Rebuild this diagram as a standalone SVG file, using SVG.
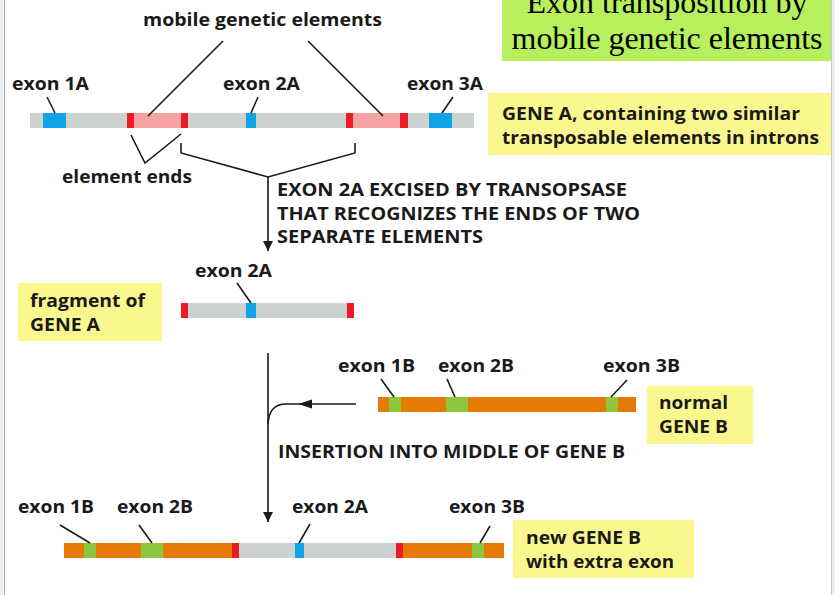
<svg xmlns="http://www.w3.org/2000/svg" width="835" height="595" viewBox="0 0 835 595">
<defs>
<style>
.t{font-family:"Open Sans","Liberation Sans",sans-serif;font-weight:700;font-size:18px;fill:#1a1a1a}
.ttl{font-family:"Liberation Serif","Times New Roman",serif;font-size:32px;fill:#000}
.ln{stroke:#1a1a1a;stroke-width:1.6;fill:none}
.g{fill:#cbd2cf}.b{fill:#12a2e8}.r{fill:#ec1c24}.p{fill:#f7a3a4}.o{fill:#e67a05}.gr{fill:#8dc63f}
.yb{fill:#fbf78f}.tb{fill:#b7f05c}
</style>
<marker id="ah" viewBox="0 0 10 16" refX="10" refY="8" markerWidth="10" markerHeight="16" markerUnits="userSpaceOnUse" orient="auto">
<path d="M0,3 L10,8 L0,13 Z" fill="#1a1a1a"/>
</marker>
</defs>
<rect x="0" y="0" width="835" height="595" fill="#ffffff"/>
<rect x="0" y="0" width="4" height="595" fill="#eeefef"/>
<rect x="832" y="0" width="3" height="595" fill="#eeefef"/>
<line x1="4.5" y1="0" x2="4.5" y2="595" stroke="#a9afbd" stroke-width="1"/>
<line x1="831.5" y1="0" x2="831.5" y2="595" stroke="#c4c8cf" stroke-width="1"/>

<g id="title">
<rect class="tb" x="502" y="0" width="329" height="61"/>
<text class="ttl" x="667" y="13" text-anchor="middle" textLength="281" lengthAdjust="spacingAndGlyphs">Exon transposition by</text>
<text class="ttl" x="667" y="49" text-anchor="middle" textLength="311" lengthAdjust="spacingAndGlyphs">mobile genetic elements</text>
</g>

<g id="geneA">
<rect class="g" x="30" y="113" width="444" height="15"/>
<rect class="b" x="43" y="113" width="23" height="15"/>
<rect class="p" x="134" y="113" width="47" height="15"/>
<rect class="r" x="127" y="113" width="7" height="15"/>
<rect class="r" x="181" y="113" width="7" height="15"/>
<rect class="b" x="246" y="113" width="10" height="15"/>
<rect class="p" x="353" y="113" width="47" height="15"/>
<rect class="r" x="346" y="113" width="7" height="15"/>
<rect class="r" x="400" y="113" width="8" height="15"/>
<rect class="b" x="429" y="113" width="23" height="15"/>
</g>

<g id="labelsA">
<text class="t" x="143" y="26" textLength="239" lengthAdjust="spacingAndGlyphs">mobile genetic elements</text>
<text class="t" x="12" y="90" textLength="77" lengthAdjust="spacingAndGlyphs">exon 1A</text>
<text class="t" x="223" y="90" textLength="77" lengthAdjust="spacingAndGlyphs">exon 2A</text>
<text class="t" x="407" y="90" textLength="76" lengthAdjust="spacingAndGlyphs">exon 3A</text>
<text class="t" x="62" y="183" textLength="130" lengthAdjust="spacingAndGlyphs">element ends</text>
</g>

<g id="boxA">
<rect class="yb" x="488" y="93" width="343" height="62"/>
<text class="t" x="502" y="120" textLength="298" lengthAdjust="spacingAndGlyphs">GENE A, containing two similar</text>
<text class="t" x="502" y="144" textLength="317" lengthAdjust="spacingAndGlyphs">transposable elements in introns</text>
</g>

<g id="excise-text">
<text class="t" x="277" y="196" textLength="350" lengthAdjust="spacingAndGlyphs">EXON 2A EXCISED BY TRANSOPSASE</text>
<text class="t" x="277" y="220" textLength="363" lengthAdjust="spacingAndGlyphs">THAT RECOGNIZES THE ENDS OF TWO</text>
<text class="t" x="277" y="243" textLength="206" lengthAdjust="spacingAndGlyphs">SEPARATE ELEMENTS</text>
</g>

<g id="fragment">
<rect class="yb" x="18" y="283" width="144" height="58"/>
<text class="t" x="30" y="307" textLength="115" lengthAdjust="spacingAndGlyphs">fragment of</text>
<text class="t" x="30" y="331" textLength="70" lengthAdjust="spacingAndGlyphs">GENE A</text>
<rect class="g" x="181" y="303" width="173" height="15"/>
<rect class="r" x="181" y="303" width="7" height="15"/>
<rect class="b" x="246" y="303" width="10" height="15"/>
<rect class="r" x="347" y="303" width="7" height="15"/>
<text class="t" x="195" y="277" textLength="77" lengthAdjust="spacingAndGlyphs">exon 2A</text>
</g>

<g id="geneB">
<rect class="o" x="378" y="397" width="258" height="15"/>
<rect class="gr" x="389" y="397" width="12" height="15"/>
<rect class="gr" x="446" y="397" width="22" height="15"/>
<rect class="gr" x="606" y="397" width="12" height="15"/>
<text class="t" x="338" y="372" textLength="77" lengthAdjust="spacingAndGlyphs">exon 1B</text>
<text class="t" x="438" y="372" textLength="76" lengthAdjust="spacingAndGlyphs">exon 2B</text>
<text class="t" x="603" y="372" textLength="77" lengthAdjust="spacingAndGlyphs">exon 3B</text>
<rect class="yb" x="647" y="386" width="106" height="58"/>
<text class="t" x="659" y="409" textLength="69" lengthAdjust="spacingAndGlyphs">normal</text>
<text class="t" x="659" y="433" textLength="69" lengthAdjust="spacingAndGlyphs">GENE B</text>
</g>

<g id="insert-text">
<text class="t" x="278" y="458" textLength="347" lengthAdjust="spacingAndGlyphs">INSERTION INTO MIDDLE OF GENE B</text>
</g>

<g id="newGeneB">
<rect class="o" x="64" y="543" width="440" height="15"/>
<rect class="gr" x="84" y="543" width="12" height="15"/>
<rect class="gr" x="141" y="543" width="22" height="15"/>
<rect class="g" x="239" y="543" width="157" height="15"/>
<rect class="r" x="232" y="543" width="7" height="15"/>
<rect class="b" x="295" y="543" width="9" height="15"/>
<rect class="r" x="396" y="543" width="7" height="15"/>
<rect class="gr" x="472" y="543" width="12" height="15"/>
<text class="t" x="18" y="513" textLength="76" lengthAdjust="spacingAndGlyphs">exon 1B</text>
<text class="t" x="117" y="513" textLength="76" lengthAdjust="spacingAndGlyphs">exon 2B</text>
<text class="t" x="292" y="513" textLength="76" lengthAdjust="spacingAndGlyphs">exon 2A</text>
<text class="t" x="449" y="513" textLength="76" lengthAdjust="spacingAndGlyphs">exon 3B</text>
<rect class="yb" x="513" y="520" width="181" height="58"/>
<text class="t" x="526" y="544" textLength="115" lengthAdjust="spacingAndGlyphs">new GENE B</text>
<text class="t" x="526" y="568" textLength="148" lengthAdjust="spacingAndGlyphs">with extra exon</text>
</g>

<g id="connectors">
<line class="ln" x1="223" y1="41" x2="148" y2="116"/>
<line class="ln" x1="308" y1="41" x2="383" y2="116"/>
<line class="ln" x1="47" y1="97" x2="55" y2="113"/>
<line class="ln" x1="258" y1="97" x2="251" y2="113"/>
<line class="ln" x1="453" y1="97" x2="442" y2="113"/>
<polyline class="ln" points="131,135 145,163 181,134"/>
<polyline class="ln" points="181,143 181,153 268,177 355,153 355,143"/>
<line class="ln" x1="268" y1="177" x2="268" y2="251" marker-end="url(#ah)"/>
<line class="ln" x1="237" y1="283" x2="251" y2="303"/>
<line class="ln" x1="268" y1="353" x2="268" y2="522" marker-end="url(#ah)"/>
<path class="ln" d="M356,404 H286 Q269,404 268,424"/>
<path d="M298,404 L312,399.5 L312,408.5 Z" fill="#1a1a1a"/>
<line class="ln" x1="381" y1="379" x2="394" y2="397"/>
<line class="ln" x1="447" y1="379" x2="455" y2="397"/>
<line class="ln" x1="627" y1="380" x2="611" y2="397"/>
<line class="ln" x1="60" y1="525" x2="90" y2="543"/>
<line class="ln" x1="139" y1="525" x2="152" y2="543"/>
<line class="ln" x1="310" y1="524" x2="299" y2="543"/>
<line class="ln" x1="490" y1="526" x2="480" y2="543"/>
</g>
</svg>
